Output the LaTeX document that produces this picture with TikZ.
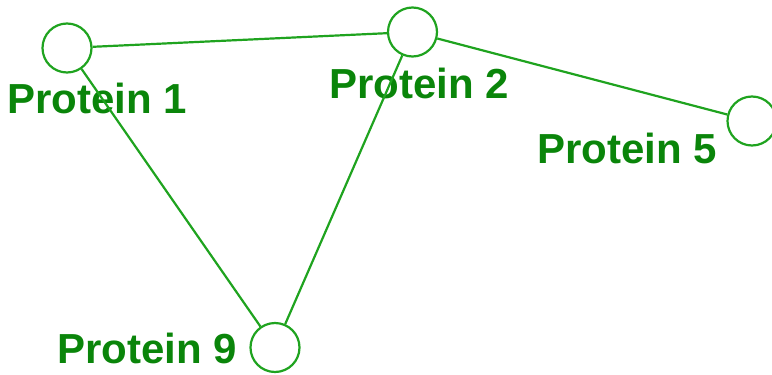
\documentclass[tikz,border=0pt]{standalone}
\usepackage{fontspec}
\setmainfont{Liberation Sans}
\usepackage{tikz}
\definecolor{protline}{HTML}{1FA31F}
\definecolor{prottext}{HTML}{0A850A}
\tikzset{
  protein/.style={draw=protline,circle,line width=2.2pt,minimum size=49pt,inner sep=0pt},
  plabel/.style={anchor=base,text=prottext,font=\fontsize{42}{42}\selectfont\bfseries,inner sep=0pt},
  link/.style={draw=protline,line width=2.2pt}
}

\begin{document}
\begin{tikzpicture}[x=1pt,y=-1pt]
\useasboundingbox (0,0) rectangle (772,375);

\node [protein] (p1) at(67,48){};
\node [protein] (p2) at(412.5,32){};
\node [protein] (p5) at(752,121){};
\node [protein] (p9) at(275,347.5){};

\node [plabel] (l1) at(97.5,113){Protein 1};
\node [plabel] (l2) at(419.5,98){Protein 2};
\node [plabel] (l5) at(627,163){Protein 5};
\node [plabel] (l9) at(147,363){Protein 9};

\draw [link] (p1) -- (p2);
\draw [link] (p1) -- (p9);
\draw [link] (p2) -- (p9);
\draw [link] (p2) -- (p5);
\end{tikzpicture}
\end{document}
